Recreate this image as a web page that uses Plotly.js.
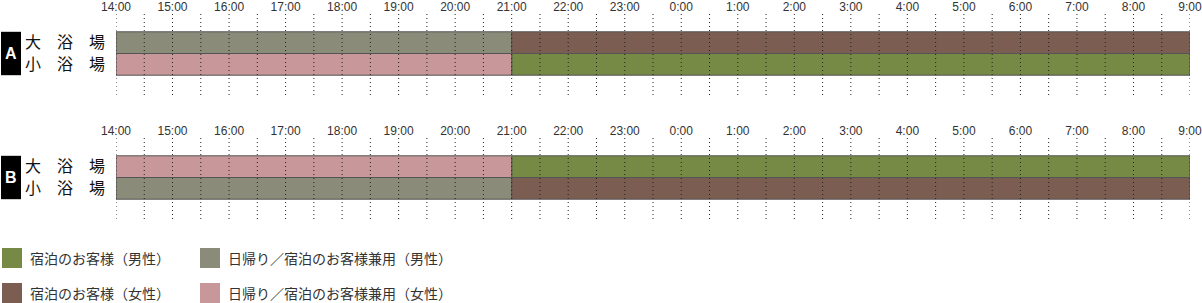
<!DOCTYPE html>
<html>
<head>
<meta charset="utf-8">
<script src="https://cdn.plot.ly/plotly-3.0.1.min.js"></script>
<style>html,body{margin:0;padding:0;background:#fff;}#chart{width:1202px;height:303px;}</style>
</head>
<body>
<div id="chart"></div>
<script>
// ---- data ----
const rows = ['大　浴　場', '小　浴　場'];
const hourTicks = [14,15,16,17,18,19,20,21,22,23,24,25,26,27,28,29,30,31,32,33];
const hourLabels = ['14:00','15:00','16:00','17:00','18:00','19:00','20:00','21:00','22:00','23:00',
  '0:00','1:00','2:00','3:00','4:00','5:00','6:00','7:00','8:00','9:00'];
const gridStep = 0.5;
const schedules = ['A', 'B'];
const typeNames = ['宿泊のお客様（男性）', '日帰り／宿泊のお客様兼用（男性）', '宿泊のお客様（女性）', '日帰り／宿泊のお客様兼用（女性）'];
const typeColors = ['#768a46', '#8b8b79', '#7b5d52', '#c89799'];
// segments per schedule: row index, start hour, end hour, type index
const segRowA   = [0, 0, 1, 1];
const segStartA = [14, 21, 14, 21];
const segEndA   = [21, 33, 21, 33];
const segTypeA  = [1, 2, 3, 0];
const segRowB   = [0, 0, 1, 1];
const segStartB = [14, 21, 14, 21];
const segEndB   = [21, 33, 21, 33];
const segTypeB  = [3, 0, 1, 2];

// ---- layout constants ----
const W = 1202, H = 303;
const M = {l: 116, r: 12, t: 12, b: 84};
const plotH = H - M.t - M.b;
const plotW = W - M.l - M.r;
const FONT = '"Noto Sans CJK JP", "Noto Sans", sans-serif';
const TICKFONT = '"Liberation Sans", Arial, sans-serif';

const segs = [
  {row: segRowA, start: segStartA, end: segEndA, type: segTypeA},
  {row: segRowB, start: segStartB, end: segEndB, type: segTypeB}
];

const traces = [];
segs.forEach((s, k) => {
  const xa = k === 0 ? 'x' : 'x2';
  const ya = k === 0 ? 'y' : 'y2';
  for (let t = 0; t < typeNames.length; t++) {
    const idx = s.type.map((v, i) => v === t ? i : -1).filter(i => i >= 0);
    if (!idx.length) continue;
    traces.push({
      type: 'bar', orientation: 'h',
      name: typeNames[t],
      y: idx.map(i => s.row[i]),
      base: idx.map(i => s.start[i]),
      x: idx.map(i => s.end[i] - s.start[i]),
      width: 1,
      xaxis: xa, yaxis: ya,
      marker: {color: typeColors[t], line: {color: '#555', width: 1}},
      showlegend: false, hoverinfo: 'skip'
    });
  }
});

// domains (pixel -> paper)
const p1 = [0, 83], p2 = [124, 207]; // from top of plot area
const dom = p => [1 - p[1] / plotH, 1 - p[0] / plotH];
const unit = 21.7;
const span = 83 / unit;
const yr = [0.5 + span / 2, 0.5 - span / 2];

function xAxis(anchor) {
  return {
    anchor: anchor, side: 'top', range: [hourTicks[0], hourTicks[hourTicks.length - 1]],
    tickmode: 'array', tickvals: hourTicks, ticktext: hourLabels,
    showgrid: false, zeroline: false, showline: false, ticks: '',
    ticklabelstandoff: -2, ticklabeloverflow: 'allow',
    tickfont: {family: TICKFONT, size: 12, color: '#333'}, fixedrange: true
  };
}
function yAxis(anchor, d) {
  return {
    anchor: anchor, domain: d, range: yr,
    tickmode: 'array', tickvals: [0, 1], ticktext: rows,
    showgrid: false, zeroline: false, showline: false, ticks: '',
    ticklabelstandoff: 10,
    tickfont: {family: FONT, size: 16, color: '#111'}, fixedrange: true
  };
}

const shapes = [];
const annotations = [];
const px2x = px => (px - M.l) / plotW;
const py2y = py => (H - M.b - py) / plotH;

// dotted gridlines above bars
['x', 'x2'].forEach((xa, k) => {
  const ya = k === 0 ? 'y' : 'y2';
  for (let h = hourTicks[0]; h <= hourTicks[hourTicks.length - 1] + 1e-9; h += gridStep) {
    shapes.push({type: 'line', layer: 'above', xref: xa, yref: ya + ' domain', x0: h, x1: h, y0: 0, y1: 1,
      line: {color: '#222', width: 1, dash: '1px,3px'}});
  }
  // schedule label box
  shapes.push({type: 'rect', layer: 'above', xref: 'paper', yref: ya, x0: px2x(1), x1: px2x(21),
    y0: -0.5, y1: 1.5, fillcolor: '#000', line: {width: 0}});
  annotations.push({xref: 'paper', yref: ya, x: px2x(11), y: 0.5, text: '<b>' + schedules[k] + '</b>', showarrow: false,
    xanchor: 'center', yanchor: 'middle',
    font: {family: 'Liberation Sans, Arial, sans-serif', size: 16, color: '#fff'}});
});

// legend (two columns)
const legCol = [2, 2, 200, 200];
const legRow = [248, 283, 248, 283];
const legOrder = [0, 2, 1, 3];
legOrder.forEach((t, i) => {
  const x0 = legCol[i], y0 = legRow[i];
  shapes.push({type: 'rect', xref: 'paper', yref: 'paper', x0: px2x(x0), x1: px2x(x0 + 20),
    y0: py2y(y0 + 20), y1: py2y(y0), fillcolor: typeColors[t], line: {width: 0}});
  annotations.push({xref: 'paper', yref: 'paper', x: px2x(x0 + 26), y: py2y(y0 + 10), text: typeNames[t],
    showarrow: false, xanchor: 'left', yanchor: 'middle',
    font: {family: FONT, size: 14, color: '#333'}});
});

const layout = {
  width: W, height: H, margin: M,
  paper_bgcolor: '#fff', plot_bgcolor: '#fff',
  barmode: 'overlay', showlegend: false,
  xaxis: xAxis('y'), yaxis: yAxis('x', dom(p1)),
  xaxis2: xAxis('y2'), yaxis2: yAxis('x2', dom(p2)),
  shapes: shapes, annotations: annotations
};

Plotly.newPlot('chart', traces, layout, {displayModeBar: false, staticPlot: true});
</script>
</body>
</html>
